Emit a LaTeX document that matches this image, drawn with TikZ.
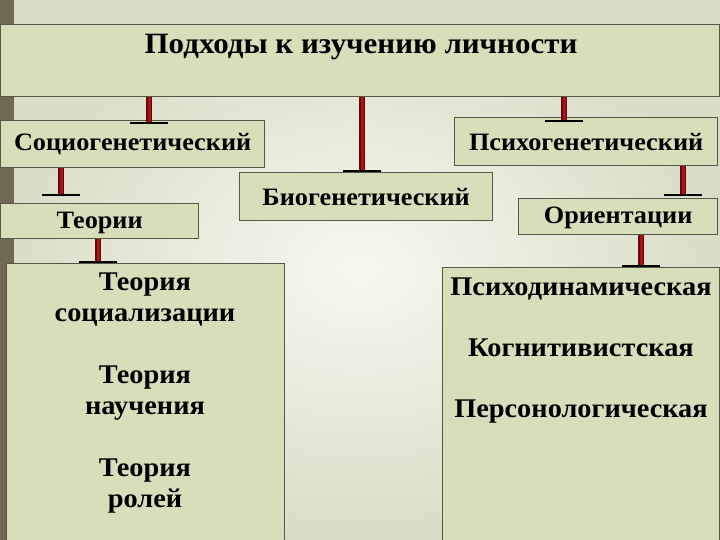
\documentclass[tikz,border=0pt]{standalone}
\usepackage{fontspec}
\setmainfont{Liberation Serif}[FakeStretch=1.05]
\usetikzlibrary{arrows.meta}
\definecolor{bgIn}{HTML}{F8F8F1}
\definecolor{bgOut}{HTML}{D9DDC6}
\definecolor{stripc}{HTML}{706850}
\definecolor{boxfill}{HTML}{D7DFBA}
\definecolor{boxline}{HTML}{55574A}
\definecolor{rdark}{HTML}{5E0A0A}
\definecolor{rmid}{HTML}{B01018}
\begin{document}
\begin{tikzpicture}[x=1pt,y=-1pt,
  box/.style={draw=boxline, line width=1.3pt, fill=boxfill, inner sep=0pt, anchor=north west,
    font=\bfseries\fontsize{25}{30}\selectfont},
  lowtext/.style={text height=17pt, text depth=3pt},
  txt/.style={inner sep=0pt, align=center, font=\bfseries\fontsize{27}{31}\selectfont},
  conn/.style={line width=5.5pt, draw=rdark, -{Bar[width=38pt,line width=2pt,color=black]},
    postaction={draw=rmid, -, line width=3pt, shorten >=2pt}}]
\useasboundingbox (0,0) rectangle (720,540);
% background
\shade[inner color=bgIn, outer color=bgOut] (0,0) rectangle (720,540);
\fill[stripc] (0,0) rectangle (14,540);
% boxes
\node[box, minimum width=719pt, minimum height=72pt] (title) at (0,24) {};
\node[txt, font=\bfseries\fontsize{29.5}{31}\selectfont] (titletxt) at (361,47) {Подходы к изучению личности};
\node[box, minimum width=264pt, minimum height=47pt] (soc) at (0,120) {Социогенетический};
\node[box, minimum width=253pt, minimum height=48pt] (bio) at (239,172) {Биогенетический};
\node[box, minimum width=263pt, minimum height=48pt] (psy) at (454,117) {Психогенетический};
\node[box, lowtext, minimum width=198pt, minimum height=35pt] (teor) at (0,203) {Теории};
\node[box, lowtext, minimum width=199pt, minimum height=36pt] (ori) at (518,198) {Ориентации};
\node[box, minimum width=278pt, minimum height=285pt] (lbig) at (6,263) {};
\node[box, minimum width=277pt, minimum height=280pt] (rbig) at (442,267) {};
\node[txt, anchor=north] (ltxt) at (145,272.5) {Теория\\социализации\\[31pt]Теория\\научения\\[31pt]Теория\\ролей};
\node[txt, anchor=north, font=\bfseries\fontsize{27}{30.5}\selectfont] (rtxt) at (581,277.5)
  {Психодинамическая\\[30.5pt]Когнитивистская\\[30.5pt]Персонологическая};
% connector x positions
\coordinate (x1) at (149,0);
\coordinate (x2) at (362,0);
\coordinate (x3) at (564,0);
\coordinate (x4) at (61,0);
\coordinate (x5) at (98,0);
\coordinate (x6) at (683,0);
\coordinate (x7) at (641,0);
% connectors
\draw[conn] (title.south -| x1) -- ([yshift=-4pt]soc.north -| x1);
\draw[conn] (title.south -| x2) -- (bio.north -| x2);
\draw[conn] (title.south -| x3) -- ([yshift=-5pt]psy.north -| x3);
\draw[conn] (soc.south -| x4) -- ([yshift=7pt]teor.north -| x4);
\draw[conn] (teor.south -| x5) -- (lbig.north -| x5);
\draw[conn] (psy.south -| x6) -- ([yshift=2pt]ori.north -| x6);
\draw[conn] (ori.south -| x7) -- (rbig.north -| x7);
\end{tikzpicture}
\end{document}
